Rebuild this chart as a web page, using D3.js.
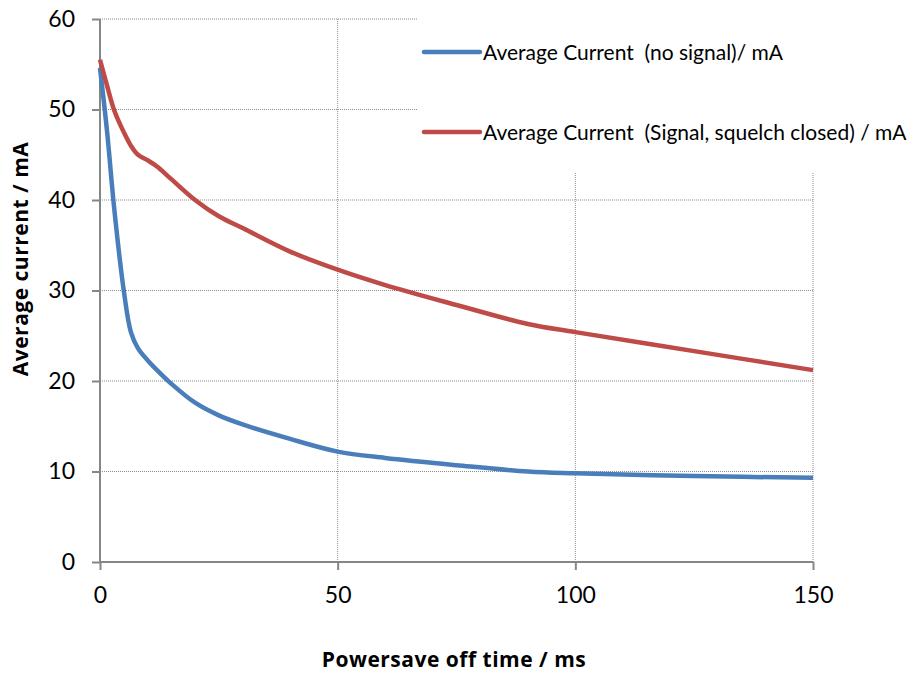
<!DOCTYPE html>
<html>
<head>
<meta charset="utf-8">
<script src="https://cdn.jsdelivr.net/npm/d3@7"></script>
<style>
  body { margin: 0; background: #fff; }
  text { fill: #000; }
</style>
</head>
<body>
<div id="chart"></div>
<script>
// powersave off time (ms)
const offTime = [0, 1.5, 3, 5, 6.5, 8, 10, 12, 15, 20, 25, 30, 40, 50, 60, 75, 90, 100, 125, 150];
const noSignal = [54.6, 47.5, 39, 30, 25.4, 23.6, 22.3, 21.2, 19.7, 17.6, 16.2, 15.2, 13.6, 12.2, 11.5, 10.7, 10.0, 9.8, 9.5, 9.3];
const squelchClosed = [55.5, 52.6, 49.9, 47.5, 46, 45.0, 44.4, 43.7, 42.3, 40, 38.2, 36.9, 34.3, 32.3, 30.6, 28.4, 26.3, 25.4, 23.3, 21.2];

const xTicks = [0, 50, 100, 150];
const yTicks = [0, 10, 20, 30, 40, 50, 60];
const seriesNames = ["Average Current  (no signal)/ mA", "Average Current  (Signal, squelch closed) / mA"];
const seriesColors = ["#4a7ebb", "#be4b48"];

const margin = { top: 19, right: 95, bottom: 113, left: 100 },
    width = 908 - margin.left - margin.right,
    height = 675 - margin.top - margin.bottom;

const svg = d3.select("#chart")
    .append("svg")
    .attr("width", 908)
    .attr("height", 675);

const g = svg.append("g")
    .attr("transform", `translate(${margin.left},${margin.top})`);

const x = d3.scaleLinear().domain([0, 150]).range([0, width]);
const y = d3.scaleLinear().domain([0, 60]).range([height, 0]);

// gridlines
g.append("g")
    .selectAll("line")
    .data(yTicks.slice(1))
    .join("line")
    .attr("x1", 0).attr("x2", width)
    .attr("y1", d => y(d)).attr("y2", d => y(d))
    .attr("stroke", "#8c8c8c")
    .attr("stroke-dasharray", "1,1");

g.append("g")
    .selectAll("line")
    .data(xTicks.slice(1))
    .join("line")
    .attr("x1", d => x(d)).attr("x2", d => x(d))
    .attr("y1", 0).attr("y2", height)
    .attr("stroke", "#8c8c8c")
    .attr("stroke-dasharray", "1,1");

// axes
const yAxis = d3.axisLeft(y).tickValues(yTicks).tickSize(8).tickPadding(17);
const xAxis = d3.axisBottom(x).tickValues(xTicks).tickSize(8).tickPadding(17);

const yg = g.append("g").call(yAxis);
const xg = g.append("g").attr("transform", `translate(0,${height})`).call(xAxis);

[yg, xg].forEach(a => {
    a.select(".domain").attr("stroke", "#868686").attr("stroke-width", 2);
    a.selectAll(".tick line").attr("stroke", "#868686").attr("stroke-width", 2);
    a.selectAll("text")
        .style("font-family", "Lato, sans-serif")
        .style("font-size", "23px")
        .attr("fill", "#000");
});
xg.select(".domain").attr("d", `M0,0H${width}`);
yg.select(".domain").attr("d", `M0,${height}V0`);

// series
const line = d3.line()
    .x(d => x(d[0]))
    .y(d => y(d[1]))
    .curve(d3.curveCatmullRom.alpha(0.5));

[noSignal, squelchClosed].forEach((vals, i) => {
    g.append("path")
        .datum(offTime.map((t, j) => [t, vals[j]]))
        .attr("d", line)
        .attr("fill", "none")
        .attr("stroke", seriesColors[i])
        .attr("stroke-width", 4.5)
        .attr("stroke-linejoin", "round");
});

// legend
const legend = svg.append("g");
legend.append("rect")
    .attr("x", 417).attr("y", 12)
    .attr("width", 491).attr("height", 160)
    .attr("fill", "#fff");

const legendY = [52, 132];
seriesNames.forEach((name, i) => {
    legend.append("line")
        .attr("x1", 424).attr("x2", 480)
        .attr("y1", legendY[i]).attr("y2", legendY[i])
        .attr("stroke", seriesColors[i])
        .attr("stroke-width", 4.5)
        .attr("stroke-linecap", "round");
    legend.append("text")
        .attr("x", 483)
        .attr("y", legendY[i] + 8)
        .style("font-family", "Lato, sans-serif")
        .style("font-size", "21px")
        .style("white-space", "pre")
        .text(name);
});

// axis titles
svg.append("text")
    .attr("x", 454)
    .attr("y", 667)
    .attr("text-anchor", "middle")
    .style("font-family", "'Open Sans', sans-serif")
    .style("font-size", "21px")
    .style("letter-spacing", "0.5px")
    .style("font-weight", "bold")
    .text("Powersave off time / ms");

svg.append("text")
    .attr("transform", "translate(28,259) rotate(-90)")
    .attr("text-anchor", "middle")
    .style("font-family", "'Open Sans', sans-serif")
    .style("font-size", "21px")
    .style("letter-spacing", "0.5px")
    .style("font-weight", "bold")
    .text("Average current / mA");
</script>
</body>
</html>
